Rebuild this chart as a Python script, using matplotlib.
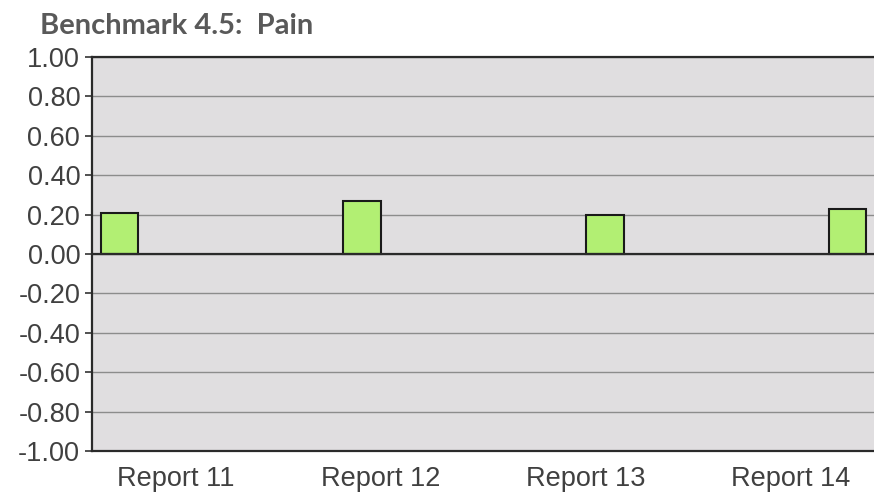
import numpy as np
import matplotlib.pyplot as plt

# data
categories = ["Report 11", "Report 12", "Report 13", "Report 14"]
values = [0.21, 0.27, 0.20, 0.23]
y_ticks = [1.0, 0.8, 0.6, 0.4, 0.2, 0.0, -0.2, -0.4, -0.6, -0.8, -1.0]

fig = plt.figure(figsize=(8.74, 4.95), dpi=100)
ax = fig.add_axes([92 / 874, 44 / 495, 1.0, 394 / 495])
ax.set_facecolor("#e0dee0")

# each report is its own series, so its bar sits in its own slot of the group
n = len(categories)
w = 0.183
x = np.arange(n)
for k in range(n):
    ax.bar(x[k] + (k - (n - 1) / 2) * w, values[k], width=w,
           color="#b2ef73", edgecolor="#1a1a1a", linewidth=1.5, zorder=3)

for t in y_ticks:
    ax.axhline(t, color="#8c8c8c", linewidth=1.0, zorder=1)
ax.axhline(0, color="#2a2a2a", linewidth=1.6, zorder=4)

ax.set_ylim(-1.0, 1.0)
ax.set_xlim((92 - 176) / 205, (92 - 176) / 205 + 1.0 * 874 / 205)
ax.set_yticks(y_ticks)
ax.set_yticklabels([f"{t:.2f}" for t in y_ticks])
ax.set_xticks(x)
ax.set_xticklabels(categories)

ax.tick_params(axis="y", length=5, width=1.2, color="#333333", pad=3.5,
               labelsize=19.5, labelcolor="#404040")
ax.tick_params(axis="x", length=0, pad=11, labelsize=19.5, labelcolor="#404040")
for lbl in ax.get_yticklabels() + ax.get_xticklabels():
    lbl.set_family("Liberation Sans")

for s in ["left", "top", "bottom"]:
    ax.spines[s].set_color("#2a2a2a")
    ax.spines[s].set_linewidth(1.6)
ax.spines["right"].set_visible(False)

fig.text(40 / 874, 1 - 26 / 495, "Benchmark 4.5:  Pain", fontsize=21,
         fontweight="bold", color="#595959", family="Lato", va="center")

fig.savefig("out.png", dpi=100)
